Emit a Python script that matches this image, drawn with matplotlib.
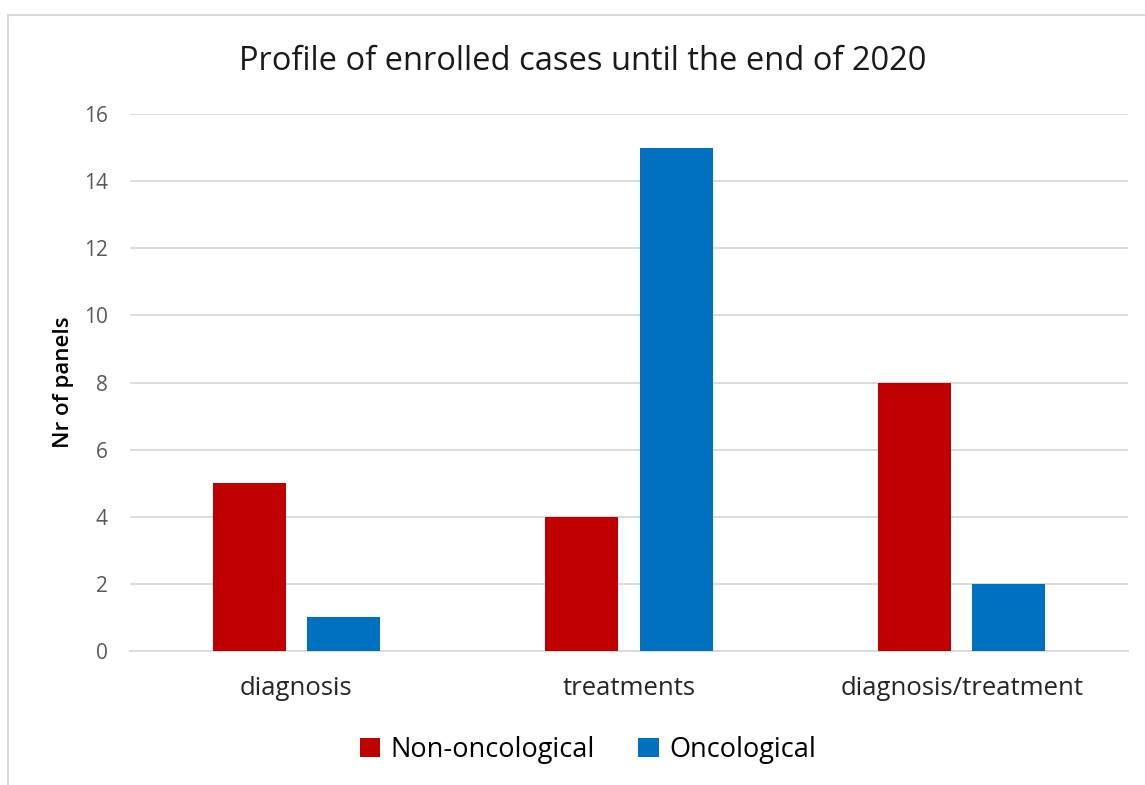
import numpy as np
import matplotlib.pyplot as plt
from matplotlib.patches import Rectangle

# ----------------------------
# Data
# ----------------------------

categories    = ["diagnosis", "treatments", "diagnosis/treatment"]
non_oncologic = [5, 4, 8]
oncologic     = [1, 15, 2]
yticks        = [0, 2, 4, 6, 8, 10, 12, 14, 16]

RED  = "#C00000"
BLUE = "#0070C0"

plt.rcParams["font.family"] = ["Open Sans", "DejaVu Sans"]

# ----------------------------
# Figure
# ----------------------------

fig = plt.figure(figsize=(11.45, 7.85), dpi=100)
ax = fig.add_axes([130 / 1145, 1 - 651 / 785, 998 / 1145, 537 / 785])

# outer chart border
fig.patches.append(Rectangle((8 / 1145, -0.1), 1.2, 1 - 15 / 785 + 0.1,
                             transform=fig.transFigure, fill=False,
                             edgecolor="#d9d9d9", linewidth=1.5))

x = np.arange(len(categories))
w = 0.22
ax.bar(x - 0.142, non_oncologic, w, color=RED, label="Non-oncological", zorder=3)
ax.bar(x + 0.142, oncologic, w, color=BLUE, label="Oncological", zorder=3)

ax.set_xlim(-0.5, 2.5)
ax.set_ylim(0, 16)
ax.set_yticks(yticks)
ax.set_xticks(x)
ax.set_xticklabels(categories, fontsize=18.5, color="#262626")
ax.tick_params(axis="y", labelsize=15, labelcolor="#595959", length=0, pad=16)
ax.tick_params(axis="x", length=0, pad=18)
ax.yaxis.grid(True, color="#d9d9d9", linewidth=1.3, zorder=0)

for s in ["top", "right", "left"]:
    ax.spines[s].set_visible(False)
ax.spines["bottom"].set_color("#d9d9d9")
ax.spines["bottom"].set_linewidth(1.3)

ax.set_ylabel("Nr of panels", fontsize=16, fontweight="semibold", labelpad=7)
fig.text(583 / 1145, 1 - 62 / 785, "Profile of enrolled cases until the end of 2020",
         ha="center", va="center", fontsize=23.5, color="#1a1a1a")

fig.legend(loc="center", bbox_to_anchor=(588 / 1145, 1 - 750 / 785), ncol=2,
           frameon=False, fontsize=19.5, handlelength=0.75, handleheight=0.75,
           columnspacing=1.6, handletextpad=0.4)

fig.savefig("out.png", dpi=100)
